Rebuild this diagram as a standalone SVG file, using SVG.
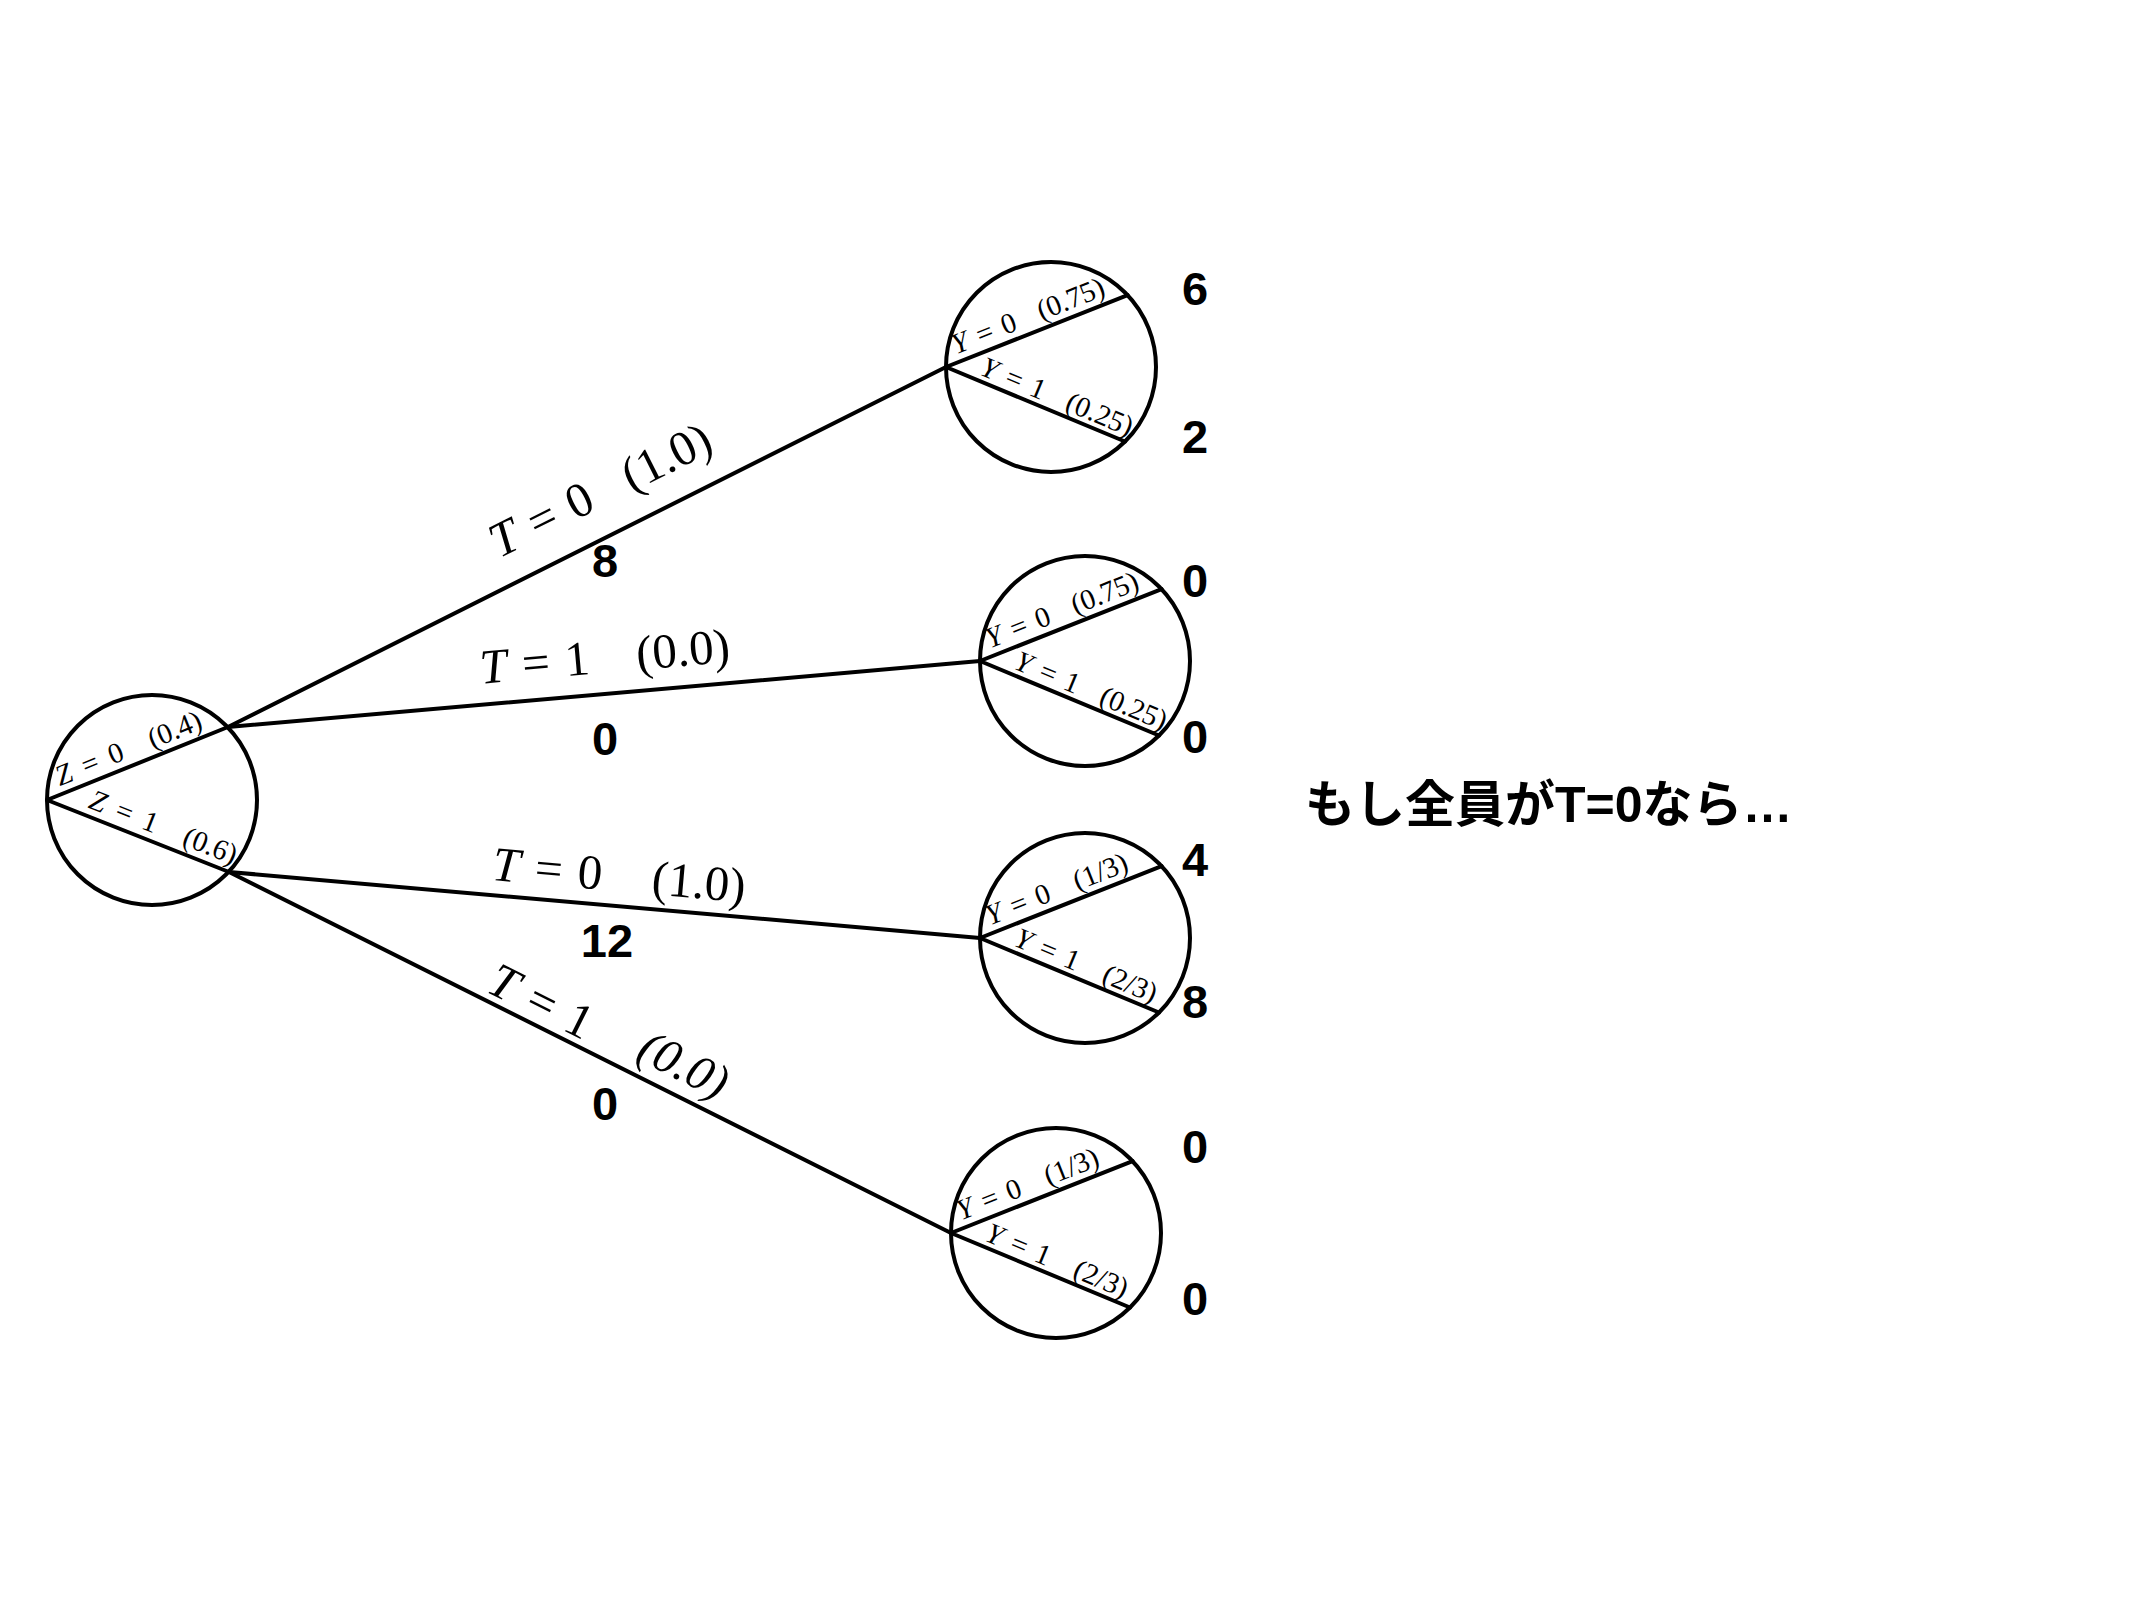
<svg xmlns="http://www.w3.org/2000/svg" width="2133" height="1600" viewBox="0 0 2133 1600">
<style>
.ln{fill:none;stroke:#000;stroke-width:4;stroke-linecap:round}
.nd{fill:none;stroke:#000;stroke-width:4}
.s{font-family:"Liberation Serif","Times New Roman",serif;font-size:29px;fill:#000;word-spacing:3px}
.b{font-family:"Liberation Serif","Times New Roman",serif;font-size:49px;fill:#000;word-spacing:3px}
.i{font-style:italic}
.n{font-family:"Liberation Sans",Arial,sans-serif;font-weight:bold;font-size:47px;fill:#000;text-anchor:middle}
.jp{font-family:"Liberation Sans","Noto Sans CJK JP",sans-serif;font-weight:bold;font-size:50px;fill:#000}
</style>
<rect width="2133" height="1600" fill="#fff"/>

<g id="connectors">
<path class="ln" d="M228,727 L946,367"/>
<path class="ln" d="M228,727 L980,661"/>
<path class="ln" d="M229,872 L980,938"/>
<path class="ln" d="M229,872 L951,1233"/>
<g transform="translate(228,727) rotate(-26.63)">
<text class="b" x="318" y="-29"><tspan class="i">T</tspan> = 0</text>
<text class="b" x="466" y="-29">(1.0)</text>
</g>
<g transform="translate(228,727) rotate(-5.02)">
<text class="b" x="256" y="-21"><tspan class="i">T</tspan> = 1</text>
<text class="b" x="413" y="-21">(0.0)</text>
</g>
<g transform="translate(229,872) rotate(5.02)">
<text class="b" x="262" y="-15"><tspan class="i">T</tspan> = 0</text>
<text class="b" x="422" y="-15">(1.0)</text>
</g>
<g transform="translate(229,872) rotate(26.57)">
<text class="b" x="282" y="-8"><tspan class="i">T</tspan> = 1</text>
<text class="b i" x="446" y="-15">(0.0)</text>
</g>
<text class="n" x="605" y="577">8</text>
<text class="n" x="605" y="755">0</text>
<text class="n" x="607" y="957">12</text>
<text class="n" x="605" y="1120">0</text>
</g>

<g id="root">
<circle class="nd" cx="152" cy="800" r="105"/>
<path class="ln" d="M47,800 L228,727 M47,800 L229,872"/>
<g transform="translate(47,800) rotate(-22)">
<text class="s" x="17" y="-8" style="word-spacing:5px"><tspan class="i">Z</tspan> = 0</text>
<text class="s" x="117" y="-8">(0.4)</text>
</g>
<g transform="translate(47,800) rotate(21.5)">
<text class="s" x="40" y="-8" style="word-spacing:5px"><tspan class="i">Z</tspan> = 1</text>
<text class="s" x="141" y="-8">(0.6)</text>
</g>
</g>

<g id="node1">
<circle class="nd" cx="1051" cy="367" r="105"/>
<path class="ln" d="M946,367 l181.6,-71.9 M946,367 l179,74.5"/>
<g transform="translate(946,367) rotate(-21.6)">
<text class="s" x="14" y="-8"><tspan class="i">Y</tspan> = 0</text>
<text class="s" x="106" y="-8">(0.75)</text>
</g>
<g transform="translate(946,367) rotate(22.6)">
<text class="s" x="33" y="-6"><tspan class="i">Y</tspan> = 1</text>
<text class="s" x="125" y="-6">(0.25)</text>
</g>
<text class="n" x="1195" y="305">6</text>
<text class="n" x="1195" y="453">2</text>
</g>

<g id="node2">
<circle class="nd" cx="1085" cy="661" r="105"/>
<path class="ln" d="M980,661 l181.6,-71.9 M980,661 l179,74.5"/>
<g transform="translate(980,661) rotate(-21.6)">
<text class="s" x="14" y="-8"><tspan class="i">Y</tspan> = 0</text>
<text class="s" x="106" y="-8">(0.75)</text>
</g>
<g transform="translate(980,661) rotate(22.6)">
<text class="s" x="33" y="-6"><tspan class="i">Y</tspan> = 1</text>
<text class="s" x="125" y="-6">(0.25)</text>
</g>
<text class="n" x="1195" y="597">0</text>
<text class="n" x="1195" y="753">0</text>
</g>

<g id="node3">
<circle class="nd" cx="1085" cy="938" r="105"/>
<path class="ln" d="M980,938 l181.6,-71.9 M980,938 l179,74.5"/>
<g transform="translate(980,938) rotate(-21.6)">
<text class="s" x="14" y="-8"><tspan class="i">Y</tspan> = 0</text>
<text class="s" x="108" y="-8">(1/3)</text>
</g>
<g transform="translate(980,938) rotate(22.6)">
<text class="s" x="33" y="-6"><tspan class="i">Y</tspan> = 1</text>
<text class="s" x="128" y="-6">(2/3)</text>
</g>
<text class="n" x="1195" y="876">4</text>
<text class="n" x="1195" y="1018">8</text>
</g>

<g id="node4">
<circle class="nd" cx="1056" cy="1233" r="105"/>
<path class="ln" d="M951,1233 l181.6,-71.9 M951,1233 l179,74.5"/>
<g transform="translate(951,1233) rotate(-21.6)">
<text class="s" x="14" y="-8"><tspan class="i">Y</tspan> = 0</text>
<text class="s" x="108" y="-8">(1/3)</text>
</g>
<g transform="translate(951,1233) rotate(22.6)">
<text class="s" x="33" y="-6"><tspan class="i">Y</tspan> = 1</text>
<text class="s" x="128" y="-6">(2/3)</text>
</g>
<text class="n" x="1195" y="1163">0</text>
<text class="n" x="1195" y="1315">0</text>
</g>

<g id="caption">
<text class="jp" x="1305" y="822">もし全員がT=0なら…</text>
</g>
</svg>
